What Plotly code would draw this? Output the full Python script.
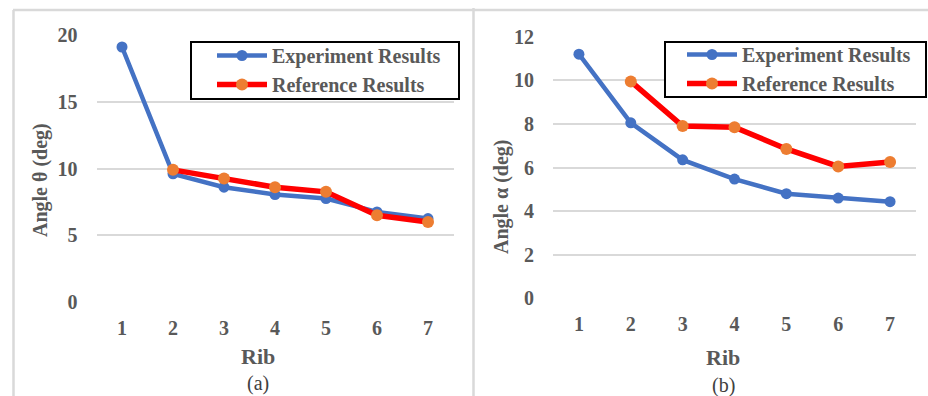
import plotly.graph_objects as go

# Rib numbers along the span
ribs = [1, 2, 3, 4, 5, 6, 7]
ref_ribs = [2, 3, 4, 5, 6, 7]
rib_labels = ["1", "2", "3", "4", "5", "6", "7"]

# (a) twist angle theta per rib, degrees
theta_experiment = [19.1, 9.6, 8.6, 8.05, 7.75, 6.75, 6.25]
theta_reference = [9.9, 9.25, 8.6, 8.25, 6.5, 6.0]

# (b) angle alpha per rib, degrees
alpha_experiment = [11.2, 8.05, 6.35, 5.47, 4.8, 4.6, 4.43]
alpha_reference = [9.95, 7.9, 7.85, 6.85, 6.05, 6.25]

theta_ticks = [0, 5, 10, 15, 20]
alpha_ticks = [0, 2, 4, 6, 8, 10, 12]

W, H = 928, 396
BLUE = "#4472C4"
RED = "#FF0000"
ORANGE = "#ED7D31"
GRID = "#D9D9D9"
TXT = "#595959"
SERIF = "Liberation Serif"


def px_x(p):
    return p / W


def px_y(p):
    return 1 - p / H


fig = go.Figure()

# Left panel (a)
fig.add_trace(go.Scatter(
    x=ribs, y=theta_experiment, mode="lines+markers", name="Experiment Results",
    line=dict(color=BLUE, width=4.5), marker=dict(color=BLUE, size=11),
    xaxis="x", yaxis="y", legend="legend"))
fig.add_trace(go.Scatter(
    x=ref_ribs, y=theta_reference, mode="lines+markers", name="Reference Results",
    line=dict(color=RED, width=5.5), marker=dict(color=ORANGE, size=12),
    xaxis="x", yaxis="y", legend="legend"))

# Right panel (b)
fig.add_trace(go.Scatter(
    x=ribs, y=alpha_experiment, mode="lines+markers", name="Experiment Results",
    line=dict(color=BLUE, width=4.5), marker=dict(color=BLUE, size=11),
    xaxis="x2", yaxis="y2", legend="legend2"))
fig.add_trace(go.Scatter(
    x=ref_ribs, y=alpha_reference, mode="lines+markers", name="Reference Results",
    line=dict(color=RED, width=5.5), marker=dict(color=ORANGE, size=12),
    xaxis="x2", yaxis="y2", legend="legend2"))

tick_font = dict(family=SERIF, size=20, color=TXT, weight="bold")
legend_font = dict(family=SERIF, size=20, color=TXT, weight="bold")

xaxis_common = dict(
    range=[0.5, 7.5], tickvals=ribs, ticktext=rib_labels, showgrid=False,
    zeroline=False, showline=False, ticks="", ticklabelstandoff=12,
    tickfont=tick_font, fixedrange=True, automargin=False)
yaxis_common = dict(
    showgrid=True, gridcolor=GRID, gridwidth=1.5, zeroline=False, showline=False,
    ticks="", ticklabelstandoff=18, tickfont=tick_font, fixedrange=True,
    automargin=False)

legend_common = dict(
    font=legend_font, bgcolor="rgba(0,0,0,0)", borderwidth=0,
    xanchor="left", yanchor="top", itemwidth=50, tracegroupgap=0,
    itemclick=False, itemdoubleclick=False)

fig.update_layout(
    template="none",
    width=W, height=H, autosize=False,
    margin=dict(l=0, r=0, t=0, b=0, pad=0),
    paper_bgcolor="white", plot_bgcolor="white",
    xaxis=dict(domain=[px_x(96.5), px_x(453.5)], anchor="y", **xaxis_common),
    yaxis=dict(domain=[px_y(302), px_y(35)], anchor="x", range=[0, 20],
               tickvals=theta_ticks, **yaxis_common),
    xaxis2=dict(domain=[px_x(553), px_x(916)], anchor="y2", **xaxis_common),
    yaxis2=dict(domain=[px_y(298.3), px_y(36.7)], anchor="x2", range=[0, 12],
                tickvals=alpha_ticks, **yaxis_common),
    legend=dict(x=px_x(212), y=px_y(36), **legend_common),
    legend2=dict(x=px_x(682), y=px_y(35), **legend_common),
    showlegend=True,
)

# Panel frames
frame = dict(color=GRID, width=2.5)
fig.add_shape(type="line", xref="paper", yref="paper",
              x0=px_x(13), x1=1, y0=px_y(10), y1=px_y(10), line=frame)
fig.add_shape(type="line", xref="paper", yref="paper",
              x0=px_x(13.5), x1=px_x(13.5), y0=px_y(10), y1=0, line=frame)
fig.add_shape(type="line", xref="paper", yref="paper",
              x0=px_x(473.5), x1=px_x(473.5), y0=px_y(8), y1=0, line=frame)

# Legend frames
for x0, x1, y0, y1 in [(191, 459, 42, 99), (665, 926, 42, 97)]:
    fig.add_shape(type="rect", xref="paper", yref="paper", layer="above",
                  x0=px_x(x0), x1=px_x(x1), y0=px_y(y1), y1=px_y(y0),
                  line=dict(color="black", width=2), fillcolor="white")

title_font = dict(family=SERIF, size=20, color=TXT, weight="bold")
caption_font = dict(family=SERIF, size=20, color="#404040")


def label(text, x, y, font, angle=0):
    fig.add_annotation(text=text, x=px_x(x), y=px_y(y), xref="paper", yref="paper",
                       showarrow=False, textangle=angle, font=font,
                       xanchor="center", yanchor="middle")


label("Angle θ (deg)", 40, 180, title_font, -90)
label("Rib", 258, 356, dict(title_font, size=22))
label("(a)", 258, 383, caption_font)
label("Angle α (deg)", 502, 197, title_font, -90)
label("Rib", 723, 357, dict(title_font, size=22))
label("(b)", 723, 385, caption_font)

fig.write_html("out.html")
